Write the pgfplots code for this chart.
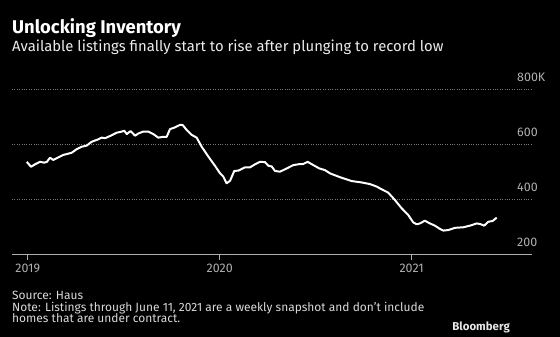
\documentclass[border=0pt]{standalone}
\usepackage{pgfplots}
\pgfplotsset{compat=1.18}
\usepackage{fontspec}
\setmainfont{Fira Sans}
\definecolor{tickgray}{RGB}{175,175,175}
\definecolor{gridgray}{RGB}{120,120,120}
\begin{document}
\begin{tikzpicture}
\fill[black] (0,0) rectangle (560bp,-337bp);
\useasboundingbox (0,0) rectangle (560bp,-337bp);
\node[anchor=base west, text=white, inner sep=0pt, font=\fontsize{18.5}{21}\selectfont\bfseries] at (12bp,-33.5bp) {Unlocking Inventory};
\node[anchor=base west, text=white!92!black, inner sep=0pt, font=\fontsize{14.9}{17}\selectfont] at (12bp,-51.5bp) {Available listings finally start to rise after plunging to record low};
\begin{axis}[
  at={(12bp,-254.5bp)}, anchor=south west,
  scale only axis, width=520bp, height=165bp,
  xmin=2018.918, xmax=2021.627, ymin=200, ymax=800,
  axis x line=bottom, axis y line=right,
  x axis line style={tickgray, line width=0.8pt, -},
  y axis line style={draw=none},
  xtick={2019,2020,2021}, xticklabels={2019,2020,2021},
  xtick style={tickgray, line width=0.6pt},
  tick align=outside, major tick length=5bp,
  xticklabel style={text=tickgray, font=\fontsize{12.5}{14}\selectfont, yshift=-1bp},
  ytick={200,400,600,800}, yticklabels={200,400,600,800K},
  ytick style={draw=none},
  yticklabel style={text=tickgray, font=\fontsize{12.5}{14}\selectfont, anchor=west, xshift=-20bp, yshift=12.5bp, inner sep=0pt},
  ymajorgrids, grid style={gridgray, dotted, line width=0.6pt},
  clip=false,
]
\addplot[white, line width=2pt, line join=round] coordinates {
(2018.995,537) (2019.017,519) (2019.038,528) (2019.064,537) (2019.086,534)
(2019.100,537) (2019.116,552) (2019.133,544) (2019.159,553) (2019.185,562)
(2019.229,570) (2019.255,583) (2019.281,592) (2019.307,596) (2019.333,610)
(2019.368,619) (2019.385,625) (2019.403,623) (2019.429,631) (2019.464,643)
(2019.490,647) (2019.503,650) (2019.516,638) (2019.536,649) (2019.559,632)
(2019.576,640) (2019.602,647) (2019.628,647) (2019.654,638) (2019.680,625)
(2019.706,628) (2019.724,628) (2019.741,656) (2019.766,662) (2019.792,671)
(2019.807,671) (2019.828,653) (2019.854,635) (2019.880,625) (2019.906,592)
(2019.941,556) (2019.976,522) (2020.002,495) (2020.019,483) (2020.036,459)
(2020.054,468) (2020.076,504) (2020.097,505) (2020.132,517) (2020.158,517)
(2020.184,528) (2020.210,537) (2020.236,536) (2020.253,523) (2020.271,520)
(2020.288,504) (2020.314,501) (2020.349,513) (2020.383,525) (2020.418,529)
(2020.435,529) (2020.458,537) (2020.488,525) (2020.519,513) (2020.548,507)
(2020.575,495) (2020.627,481) (2020.688,467) (2020.740,462) (2020.783,456)
(2020.818,447) (2020.844,437) (2020.878,425) (2020.913,398) (2020.948,368)
(2020.982,344) (2021.008,317) (2021.026,310) (2021.043,313) (2021.069,323)
(2021.095,313) (2021.121,305) (2021.147,293) (2021.165,287) (2021.191,289)
(2021.226,297) (2021.269,299) (2021.304,305) (2021.339,313) (2021.356,311)
(2021.378,305) (2021.399,319) (2021.422,322) (2021.443,334)
};
\end{axis}
\node[anchor=base west, text=white!85!black, inner sep=0pt, font=\fontsize{12}{13}\selectfont] at (12bp,-299bp) {Source: Haus};
\node[anchor=base west, text=white!85!black, inner sep=0pt, font=\fontsize{12}{13}\selectfont] at (12bp,-311.5bp) {Note: Listings through June 11, 2021 are a weekly snapshot and don't include};
\node[anchor=base west, text=white!85!black, inner sep=0pt, font=\fontsize{12}{13}\selectfont] at (12bp,-322bp) {homes that are under contract.};
\node[anchor=base east, text=white!90!black, inner sep=0pt, font=\fontsize{11.5}{13}\selectfont\bfseries] at (510bp,-330bp) {Bloomberg};
\end{tikzpicture}
\end{document}
